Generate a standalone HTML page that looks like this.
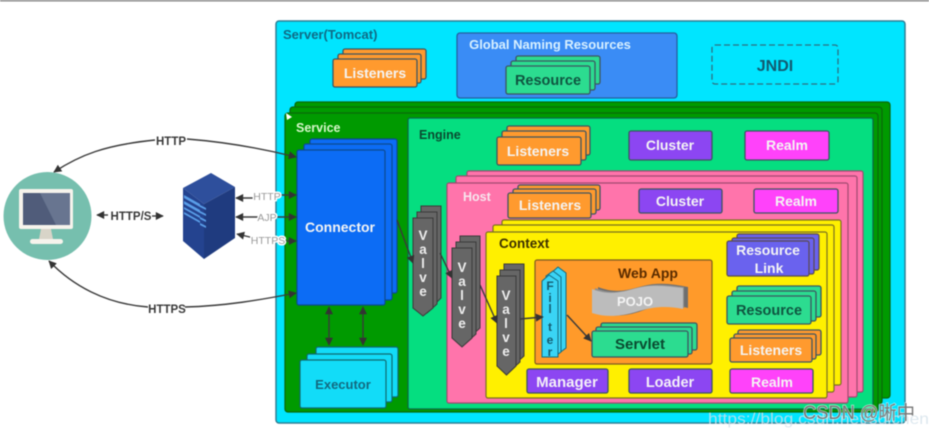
<!DOCTYPE html>
<html><head><meta charset="utf-8"><style>
html,body{margin:0;padding:0;background:#fff;width:929px;height:431px;overflow:hidden}
svg{display:block;filter:blur(.45px)}
text{font-family:"Liberation Sans","Noto Sans CJK SC",sans-serif;font-weight:bold;text-anchor:middle}
.l{text-anchor:start}
.w{fill:#f4f4f4;font-size:14px}
.b{fill:#f4f0f8;font-size:15px}
.s{stroke:#3d5560;stroke-width:1.3}
.ln{fill:none;stroke:#3a3a3a;stroke-width:1.4}
.g{fill:#9a9a9a;font-size:10.500px;font-weight:normal;paint-order:stroke;stroke:#fff;stroke-width:3px;stroke-linejoin:round}
.o{fill:#ff9a2e}.t{fill:#2cdc90}.p{fill:#8c46f2}.m{fill:#ff42fa}
.v{fill:#666}.vt{fill:#eee;font-size:13.500px}
</style></head><body>
<svg width="929" height="431" viewBox="0 0 929 431" xmlns="http://www.w3.org/2000/svg">
<defs>
<marker id="a" viewBox="0 0 10 10" refX="9" refY="5" markerWidth="9" markerHeight="8" orient="auto-start-reverse" markerUnits="userSpaceOnUse"><path d="M0 0L10 5L0 10Z" fill="#333"/></marker>
</defs>
<rect x="0" y="0" width="929" height="1.5" fill="#8a8a8a"/>

<!-- Server -->
<rect x="276" y="21" width="629" height="402" rx="3" fill="#00e5ff" stroke="#2f7f95" stroke-width="1.5"/>
<text x="283" y="39" class="l" style="fill:#0f6a85;font-size:13px">Server(Tomcat)</text>

<g class="s">
<rect x="343" y="49" width="83" height="30" rx="2" class="o"/>
<rect x="338" y="54" width="83" height="29" rx="2" class="o"/>
<rect x="333" y="59" width="84" height="28" rx="2" class="o"/>
</g>
<text x="375" y="78" class="w">Listeners</text>

<rect x="457" y="33" width="220" height="65" rx="3" fill="#3a8cf5" stroke="#24609f" stroke-width="1.3"/>
<text x="550" y="49" style="fill:#d8f0ff;font-size:13px">Global Naming Resources</text>
<g class="s">
<rect x="516" y="56" width="84" height="28" rx="2" class="t"/>
<rect x="511" y="61" width="84" height="29" rx="2" class="t"/>
<rect x="506" y="66" width="84" height="28" rx="2" class="t"/>
</g>
<text x="548" y="85" style="fill:#0f5540;font-size:14.500px">Resource</text>

<rect x="712" y="45" width="126" height="39" rx="3" fill="none" stroke="#2f6f80" stroke-width="1.3" stroke-dasharray="6 3"/>
<text x="775" y="71" style="fill:#125a70;font-size:16px">JNDI</text>

<!-- Service -->
<g fill="#009a00" stroke="#0a6a0a" stroke-width="1.3">
<rect x="295" y="102" width="595" height="296" rx="3"/>
<rect x="290" y="107" width="592" height="297" rx="3"/>
<rect x="285" y="113" width="593" height="299" rx="3"/>
</g>
<text x="296" y="132" class="l" style="fill:#d6f7c9;font-size:12.500px">Service</text>
<path d="M286 113l6 4-5 3z" fill="#fff"/>

<g fill="#0c6cf5" stroke="#0d4a90" stroke-width="1.2">
<rect x="310" y="139" width="87" height="154" rx="2"/>
<rect x="304" y="144" width="88" height="156" rx="2"/>
<rect x="297" y="150" width="88" height="155" rx="2"/>
</g>
<text x="340" y="232" class="w">Connector</text>

<g fill="#12dcf8" stroke="#0f6a70" stroke-width="1.2">
<rect x="316" y="347" width="82" height="50" rx="2"/>
<rect x="307" y="354" width="85" height="48" rx="2"/>
<rect x="300" y="360" width="86" height="48" rx="2"/>
</g>
<text x="343" y="389" style="fill:#126a80;font-size:13px">Executor</text>
<path d="M329 307V345" class="ln" marker-start="url(#a)" marker-end="url(#a)"/>
<path d="M363 307V345" class="ln" marker-start="url(#a)" marker-end="url(#a)"/>

<!-- Engine -->
<rect x="408" y="118" width="465" height="291" rx="2" fill="#05de80" stroke="#0b6a44" stroke-width="1.3"/>
<text x="419" y="139" class="l" style="fill:#0a4a30;font-size:12.500px">Engine</text>
<g class="s">
<rect x="507" y="126" width="83" height="29" rx="2" class="o"/>
<rect x="502" y="131" width="84" height="29" rx="2" class="o"/>
<rect x="497" y="137" width="84" height="28" rx="2" class="o"/>
</g>
<text x="538" y="156" class="w">Listeners</text>
<rect x="629" y="131" width="83" height="29" rx="2" class="p s"/>
<text x="670" y="150" class="w">Cluster</text>
<rect x="745" y="131" width="84" height="29" rx="2" class="m s"/>
<text x="787" y="150" class="w">Realm</text>

<!-- Host -->
<g fill="#ff74ab" stroke="#a04a70" stroke-width="1.2">
<rect x="467" y="171" width="396" height="221" rx="2"/>
<rect x="456" y="176" width="401" height="221" rx="2"/>
<rect x="447" y="183" width="401" height="220" rx="2"/>
</g>
<text x="463" y="201" class="l" style="fill:#f7e6ee;font-size:12.500px">Host</text>
<g class="s">
<rect x="518" y="185" width="82" height="25" rx="2" class="o"/>
<rect x="513" y="189" width="83" height="25" rx="2" class="o"/>
<rect x="508" y="193" width="83" height="25" rx="2" class="o"/>
</g>
<text x="550" y="210" class="w">Listeners</text>
<rect x="639" y="189" width="83" height="24" rx="2" class="p s"/>
<text x="680" y="206" class="w">Cluster</text>
<rect x="754" y="189" width="84" height="24" rx="2" class="m s"/>
<text x="796" y="206" class="w">Realm</text>

<!-- Context -->
<g fill="#fff000" stroke="#7a7020" stroke-width="1.2">
<rect x="502" y="220" width="339" height="165" rx="2"/>
<rect x="493" y="225" width="341" height="167" rx="2"/>
<rect x="486" y="232" width="341" height="166" rx="2"/>
</g>
<text x="499" y="248" class="l" style="fill:#3c3000;font-size:13.500px">Context</text>

<!-- Web App -->
<rect x="535" y="260" width="177" height="104" rx="2" fill="#ff9a2a" stroke="#7c5a20" stroke-width="1.2"/>
<text x="648" y="278" style="fill:#5a2c00;font-size:14px">Web App</text>
<path d="M598 287c18 7 30 3 45-1s30-2 45 1v21c-14-4-28-4-44 2s-32 8-45 2z" fill="#6e6e6e"/>
<path d="M595 288c18 7 30 3 45-1s30-2 44 0v21c-14-3-27-3-43 2s-31 7-46 2z" fill="#909090"/>
<path d="M592 289c18 7 30 3 45-1s30-2 46 0v21c-14-3-28-3-44 2s-32 7-47 2z" fill="#bcbcbc"/>
<text x="635" y="306" style="fill:#f4f4f4;font-size:13px">POJO</text>
<g class="s">
<rect x="601" y="323" width="96" height="27" rx="2" class="t"/>
<rect x="596" y="327" width="96" height="27" rx="2" class="t"/>
<rect x="592" y="331" width="96" height="26" rx="2" class="t"/>
</g>
<text x="640" y="349" style="fill:#0a4a30;font-size:15px">Servlet</text>

<g fill="#3ad4f5" stroke="#146a80" stroke-width="1">
<path d="M550 274l8-7 8 6v75l-8 6h-8z"/>
<path d="M546 276l7-5 8 6v75l-7 5h-8z"/>
<path d="M542 281l7-6 9 6v76h-16z"/>
</g>
<g style="fill:#145a70;font-size:12px">
<text x="550" y="290">F</text><text x="550" y="302">i</text><text x="550" y="313">l</text><text x="550" y="331">t</text><text x="550" y="344">e</text><text x="550" y="356">r</text>
</g>

<!-- Right column in Context -->
<g fill="#6a62ee" stroke="#5a4a50" stroke-width="1.2">
<rect x="737" y="234" width="82" height="36" rx="2"/>
<rect x="732" y="238" width="82" height="36" rx="2"/>
<rect x="727" y="241" width="82" height="35" rx="2"/>
</g>
<text x="768" y="255" class="w">Resource</text>
<text x="769" y="273" class="w">Link</text>
<g class="s">
<rect x="737" y="286" width="84" height="31" rx="2" class="t"/>
<rect x="732" y="291" width="84" height="30" rx="2" class="t"/>
<rect x="727" y="296" width="84" height="28" rx="2" class="t"/>
</g>
<text x="769" y="315" style="fill:#0f5540;font-size:14.500px">Resource</text>
<g class="s">
<rect x="738" y="330" width="83" height="25" rx="2" class="o"/>
<rect x="734" y="334" width="82" height="25" rx="2" class="o"/>
<rect x="730" y="338" width="82" height="24" rx="2" class="o"/>
</g>
<text x="771" y="355" class="w">Listeners</text>

<rect x="527" y="369" width="81" height="24" rx="2" class="p s"/>
<text x="567" y="387" class="b">Manager</text>
<rect x="629" y="369" width="83" height="24" rx="2" class="p s"/>
<text x="670" y="387" class="b" style="font-size:14.500px">Loader</text>
<rect x="730" y="369" width="83" height="24" rx="2" class="m s"/>
<text x="772" y="387" class="w">Realm</text>

<!-- Valves -->
<g stroke="#3a3a3a" stroke-width="1">
<path class="v" d="M421 206h20v92l-9 9-11-9z"/>
<path class="v" d="M417 212h20v92l-10 9-10-9z"/>
<path class="v" d="M413 218h20v90l-10 8-10-8z"/>
<path class="v" d="M460 236h20v92l-10 9-10-9z"/>
<path class="v" d="M456 242h20v92l-10 9-10-9z"/>
<path class="v" d="M452 248h20v90l-10 9-10-9z"/>
<path class="v" d="M504 264h20v92l-10 9-10-9z"/>
<path class="v" d="M500 270h20v92l-10 9-10-9z"/>
<path class="v" d="M497 276h19v90l-9.500 9-9.500-9z"/>
</g>
<g class="vt">
<text x="423" y="240">V</text><text x="423" y="254">a</text><text x="423" y="268">l</text><text x="423" y="282">v</text><text x="423" y="296">e</text>
<text x="462" y="272">V</text><text x="462" y="286">a</text><text x="462" y="300">l</text><text x="462" y="314">v</text><text x="462" y="328">e</text>
<text x="506" y="300">V</text><text x="506" y="314">a</text><text x="506" y="328">l</text><text x="506" y="342">v</text><text x="506" y="356">e</text>
</g>
<path d="M397 220L413 263" class="ln" marker-end="url(#a)"/>
<path d="M440 253L452 278" class="ln" marker-end="url(#a)"/>
<path d="M480 285L497 323" class="ln" marker-end="url(#a)"/>
<path d="M520 319L543 317" class="ln" marker-end="url(#a)"/>
<path d="M567 315L591 341" class="ln" marker-end="url(#a)"/>

<!-- Client -->
<circle cx="47.500" cy="216" r="44" fill="#76bfae"/>
<rect x="19" y="189" width="54" height="40" rx="2" fill="#f6f3ec"/>
<rect x="23" y="193" width="47" height="32" fill="#505c7a"/>
<path d="M40 193h30v32h-14z" fill="#687590"/>
<path d="M41 229h10l2 10H39z" fill="#d8d4c8"/>
<rect x="30" y="239" width="33" height="5" rx="2.500" fill="#f6f3ec"/>

<!-- Server icon -->
<path d="M183 188L211 173L235 187L204 204Z" fill="#2e4f9c"/>
<path d="M183 188L204 204V259L183 241Z" fill="#24438f"/>
<path d="M204 204L235 187V238L204 259Z" fill="#1f3b7f"/>
<path d="M184 195l16 9v3l-16-9zM184 201l16 9v3l-16-9zM184 207l16 9v2l-16-9zM184 212l16 9v2l-16-9z" fill="#5a9ee8"/>
<path d="M200 205l6 3v2l-6-3zM200 211l6 3v2l-6-3zM200 217l6 3v2l-6-3zM200 223l6 3v2l-6-3z" fill="#5a9ee8" transform="translate(0,0)"/>

<!-- External arrows -->
<path d="M155 140C105 145 80 155 54 172" class="ln" marker-end="url(#a)"/>
<path d="M187 139C225 142 260 148 296 157" class="ln" marker-end="url(#a)"/>
<path d="M148 307C105 304 72 285 49 261" class="ln" marker-end="url(#a)"/>
<path d="M185 307C225 306 260 300 296 293" class="ln" marker-end="url(#a)"/>
<text x="171" y="145" style="fill:#3a3a3a;font-size:11.500px">HTTP</text>
<text x="167" y="313" style="fill:#3a3a3a;font-size:11.500px">HTTPS</text>
<text x="131" y="220" style="fill:#3a3a3a;font-size:11.500px">HTTP/S</text>
<path d="M108 215H97" class="ln" marker-end="url(#a)"/>
<path d="M152 216H163" class="ln" marker-end="url(#a)"/>

<path d="M255 198H236" class="ln" marker-end="url(#a)"/>
<path d="M259 217H236" class="ln" marker-end="url(#a)"/>
<path d="M254 238L237 234" class="ln" marker-end="url(#a)"/>
<path d="M278 195H296" class="ln" marker-end="url(#a)"/>
<path d="M275 217H296" class="ln" marker-end="url(#a)"/>
<path d="M281 241H296" class="ln" marker-end="url(#a)"/>
<text x="267" y="200" class="g">HTTP</text>
<text x="267" y="221" class="g">AJP</text>
<text x="268" y="244" class="g">HTTPS</text>

<!-- Watermarks -->
<text x="708" y="424" class="l" textLength="221" lengthAdjust="spacingAndGlyphs" style="fill:#d4e2ea;font-size:16px;font-weight:normal;opacity:.8">https://blog.csdn.net/sdlchen</text>
<text x="803" y="419" class="l" textLength="112" lengthAdjust="spacingAndGlyphs" style="fill:#777;font-size:19px;font-weight:normal;paint-order:stroke;stroke:#fff;stroke-opacity:.6;stroke-width:1.500px">CSDN @晰中</text>
</svg>
</body></html>
